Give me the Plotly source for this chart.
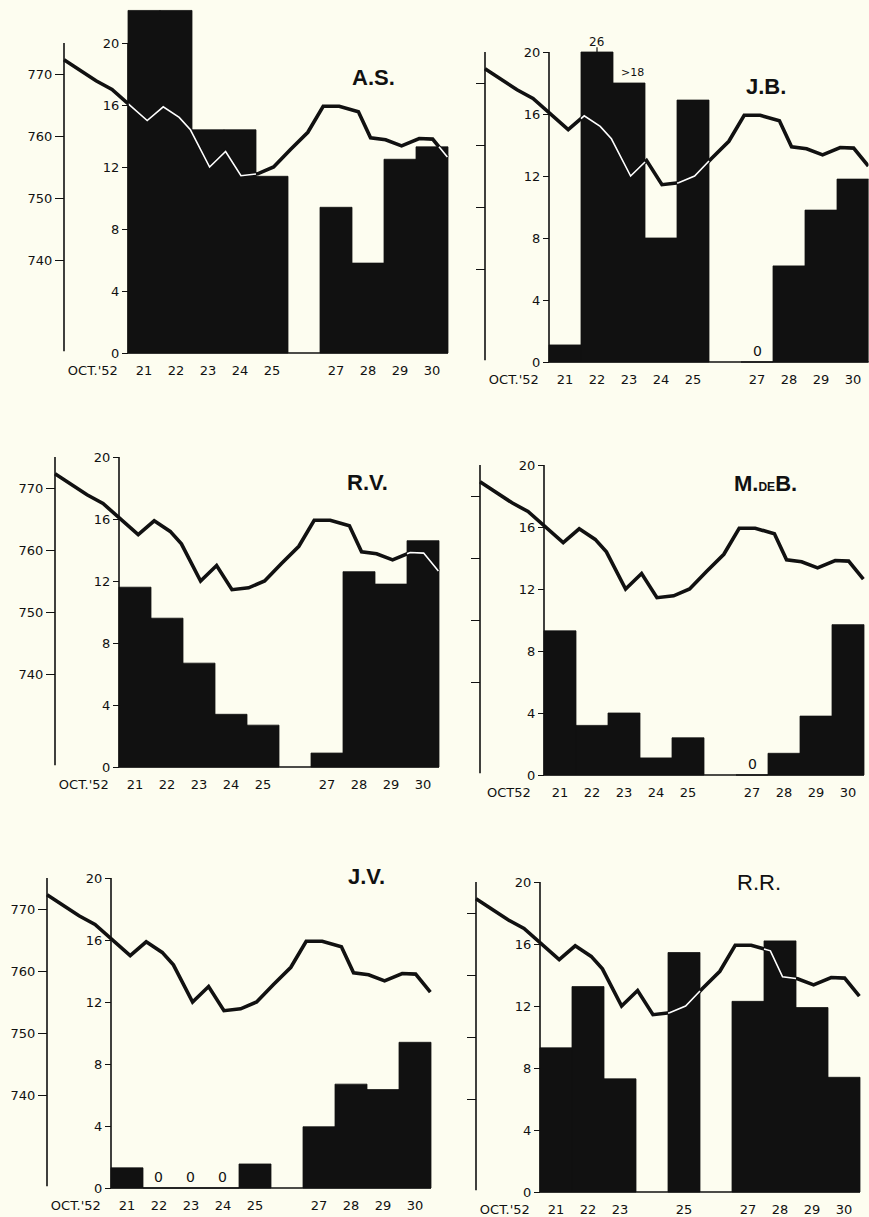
import plotly.graph_objects as go

W, H = 869, 1217

# ---------------- data ----------------
days = [21, 22, 23, 24, 25, 26, 27, 28, 29, 30]

# barometric pressure (mm Hg), readings twice a day (time in days, Oct. 1952)
press_t = [18.5, 19.0, 19.5, 20.0, 20.55, 21.1, 21.6, 22.1, 22.45, 23.05, 23.55, 24.03,
           24.55, 25.05, 25.57, 26.12, 26.6, 27.1, 27.7, 28.08, 28.55, 29.05, 29.6,
           30.02, 30.48]
press_mm = [772.3, 770.6, 768.9, 767.5, 765.0, 762.5, 764.7, 763.0, 761.0, 755.0,
            757.5, 753.6, 753.9, 755.0, 757.8, 760.6, 764.8, 764.8, 763.9, 759.7,
            759.4, 758.4, 759.6, 759.5, 756.6]

vals_AS = [22.1, 22.1, 14.4, 14.4, 11.4, None, 9.4, 5.8, 12.5, 13.3]
vals_JB = [1.1, 26, 18, 8.0, 16.9, None, 0, 6.2, 9.8, 11.8]
vals_RV = [11.6, 9.6, 6.7, 3.4, 2.7, None, 0.9, 12.6, 11.8, 14.6]
vals_MDB = [9.3, 3.2, 4.0, 1.1, 2.4, None, 0, 1.4, 3.8, 9.7]
vals_JV = [1.3, 0, 0, 0, 1.55, None, 3.95, 6.7, 6.35, 9.4]
vals_RR = [9.3, 13.25, 7.3, None, 15.45, None, 12.3, 16.2, 11.9, 7.4]

bar_ticks = [0, 4, 8, 12, 16, 20]
press_ticks = [740, 750, 760, 770]
day_ticks = [21, 22, 23, 24, 25, 27, 28, 29, 30]
day_ticks_RR = [21, 22, 23, 25, 27, 28, 29, 30]

# ---------------- layout constants ----------------
BG = "#fdfdf0"
INK = "#111111"
PX_DAY = 32.0
PX_UNIT = 15.5
P0, P_PER_UNIT = 725.0, 2.5     # pressure scale: p = 725 + 2.5 * bar-unit
YLO, YHI = -0.5, 22.5
T_PAXIS = 18.5
T_LEFT = 18.2
T_RIGHT = 30.75
FONT = "DejaVu Sans"

panels = [
    dict(vals=vals_AS, bs=128, base=353, left=True, title="<b>A.S.</b>", tpos=(373, 63),
         zeros=[], ticks=day_ticks, oct="OCT.'52", cap=None),
    dict(vals=vals_JB, bs=549, base=362, left=False, title="<b>J.B.</b>", tpos=(788, 72),
         zeros=[27], ticks=day_ticks, oct="OCT.'52", cap=20),
    dict(vals=vals_RV, bs=119, base=767, left=True, title="<b>R.V.</b>", tpos=(367, 482),
         zeros=[], ticks=day_ticks, oct="OCT.'52", cap=None),
    dict(vals=vals_MDB, bs=544, base=775, left=False,
         title="<b>M.<span style='font-size:12px'>DE</span>B.</b>", tpos=(799, 483),
         zeros=[27], ticks=day_ticks, oct="OCT52", cap=None),
    dict(vals=vals_JV, bs=111, base=1188, left=True, title="<b>J.V.</b>", tpos=(366, 891),
         zeros=[22, 23, 24], ticks=day_ticks, oct="OCT.'52", cap=None),
    dict(vals=vals_RR, bs=540, base=1192, left=False, title="R.R.", tpos=(783, 897),
         zeros=[], ticks=day_ticks_RR, oct="OCT.'52", cap=None),
]


def clip(x0, y0, x1, y1, xmin, xmax, ymin, ymax):
    dx, dy = x1 - x0, y1 - y0
    u0, u1 = 0.0, 1.0
    for p, q in ((-dx, x0 - xmin), (dx, xmax - x0), (-dy, y0 - ymin), (dy, ymax - y0)):
        if p == 0:
            if q < 0:
                return None
        else:
            r = q / p
            if p < 0:
                u0 = max(u0, r)
            else:
                u1 = min(u1, r)
    if u0 >= u1:
        return None
    return (x0 + u0 * dx, y0 + u0 * dy, x0 + u1 * dx, y0 + u1 * dy)


fig = go.Figure()
layout = dict(width=W, height=H, margin=dict(l=0, r=0, t=0, b=0),
              paper_bgcolor=BG, plot_bgcolor=BG, showlegend=False,
              shapes=[], annotations=[])

for i, pn in enumerate(panels, start=1):
    xa = "x" if i == 1 else f"x{i}"
    yb_n, yp_n = 2 * i - 1, 2 * i
    yb = "y" if yb_n == 1 else f"y{yb_n}"
    yp = f"y{yp_n}"
    bs, base = pn["bs"], pn["base"]

    xl_px = bs + (T_LEFT - 20.5) * PX_DAY
    xr_px = min(W - 0.5, bs + (T_RIGHT - 20.5) * PX_DAY)
    t_right = 20.5 + (xr_px - bs) / PX_DAY
    yb_px = base - YLO * PX_UNIT
    yt_px = base - YHI * PX_UNIT
    xdom = [xl_px / W, xr_px / W]
    ydom = [1 - yb_px / H, 1 - yt_px / H]

    drawn = []
    for v in pn["vals"]:
        if v is None:
            drawn.append(None)
        elif pn["cap"] is not None:
            drawn.append(min(v, pn["cap"]))
        else:
            drawn.append(v)

    # bars
    fig.add_trace(go.Bar(x=days, y=drawn, width=1.0, xaxis=xa, yaxis=yb,
                         marker=dict(color=INK, line=dict(color=INK, width=0.8)),
                         hoverinfo="skip"))
    # pressure line (black)
    fig.add_trace(go.Scatter(x=press_t, y=press_mm, mode="lines", xaxis=xa, yaxis=yp,
                             line=dict(color=INK, width=3.6), hoverinfo="skip"))
    # white part of the pressure line where it runs through the bars
    pts_b = [(p - P0) / P_PER_UNIT for p in press_mm]
    wx, wy = [], []
    last = None
    for k in range(len(press_t) - 1):
        for d, h in zip(days, drawn):
            if not h:
                continue
            c = clip(press_t[k], pts_b[k], press_t[k + 1], pts_b[k + 1],
                     d - 0.5, d + 0.5, 0, h)
            if c is None:
                continue
            ax_, ay_, bx_, by_ = c
            if last is not None and abs(last[0] - ax_) < 1e-9 and abs(last[1] - ay_) < 1e-9:
                wx.append(bx_)
                wy.append(P0 + P_PER_UNIT * by_)
            else:
                if wx:
                    wx.append(None)
                    wy.append(None)
                wx += [ax_, bx_]
                wy += [P0 + P_PER_UNIT * ay_, P0 + P_PER_UNIT * by_]
            last = (bx_, by_)
    fig.add_trace(go.Scatter(x=wx, y=wy, mode="lines", xaxis=xa, yaxis=yp,
                             line=dict(color="white", width=1.6), hoverinfo="skip",
                             connectgaps=False))

    # axes
    tickvals = [19.4] + pn["ticks"]
    ticktext = [pn["oct"]] + [str(d) for d in pn["ticks"]]
    layout["xaxis" if i == 1 else f"xaxis{i}"] = dict(
        domain=xdom, range=[T_LEFT, t_right], anchor=yb, showgrid=False, zeroline=False,
        showline=False, ticks="", tickvals=tickvals, ticktext=ticktext,
        tickfont=dict(family=FONT, size=13, color=INK), fixedrange=True)
    layout["yaxis" if yb_n == 1 else f"yaxis{yb_n}"] = dict(
        domain=ydom, range=[YLO, YHI], anchor="free", position=bs / W, side="left",
        showgrid=False, zeroline=False, showline=False, ticks="outside", ticklen=6,
        tickwidth=1.3, tickcolor=INK, tickvals=bar_ticks,
        tickfont=dict(family=FONT, size=13, color=INK), fixedrange=True)
    layout[f"yaxis{yp_n}"] = dict(
        range=[P0 + P_PER_UNIT * YLO, P0 + P_PER_UNIT * YHI], overlaying=yb,
        anchor="free", position=(bs + (T_PAXIS - 20.5) * PX_DAY) / W, side="left",
        showgrid=False, zeroline=False, showline=False, ticks="outside", ticklen=9,
        tickwidth=1.3, tickcolor=INK, tickvals=press_ticks,
        showticklabels=pn["left"], tickfont=dict(family=FONT, size=13, color=INK),
        fixedrange=True)

    # axis lines
    layout["shapes"] += [
        dict(type="line", xref=xa, yref=yp, x0=T_PAXIS, x1=T_PAXIS, y0=P0 + 0.3, y1=P0 + 50,
             line=dict(color=INK, width=1.6)),
        dict(type="line", xref=xa, yref=yb, x0=20.5, x1=20.5, y0=0, y1=20,
             line=dict(color=INK, width=1.6)),
        dict(type="line", xref=xa, yref=yb, x0=20.5, x1=30.5, y0=0, y1=0,
             line=dict(color=INK, width=1.6)),
    ]

    # zero labels
    for d in pn["zeros"]:
        layout["annotations"].append(dict(x=d, y=0, xref=xa, yref=yb, text="0",
                                          showarrow=False, yanchor="bottom", yshift=1,
                                          font=dict(family=FONT, size=14, color=INK)))
    # title
    tx, ty = pn["tpos"]
    layout["annotations"].append(dict(x=tx / W, y=1 - ty / H, xref="paper", yref="paper",
                                      text=pn["title"], showarrow=False,
                                      font=dict(family="Liberation Sans", size=22, color=INK)))

    # J.B. off-scale notes
    if pn["cap"] is not None:
        for d, v in zip(days, pn["vals"]):
            if v is not None and v > pn["cap"]:
                layout["annotations"].append(dict(
                    x=d, y=pn["cap"], xref=xa, yref=yb, text=f"{v:g}", showarrow=False,
                    yanchor="bottom", yshift=1, font=dict(family=FONT, size=12, color=INK)))
                layout["shapes"].append(dict(type="line", xref=xa, yref=yb, x0=d, x1=d,
                                             y0=pn["cap"], y1=pn["cap"] + 0.3,
                                             line=dict(color=INK, width=1.2)))
        layout["annotations"].append(dict(
            x=23.1, y=18, xref=xa, yref=yb, text=">18", showarrow=False,
            yanchor="bottom", yshift=2, font=dict(family=FONT, size=11, color=INK)))

fig.update_layout(**layout)
fig.write_html("out.html", config={"displayModeBar": False},
               post_script="document.body.style.margin='0px';"
                           "document.body.style.overflow='hidden';")
